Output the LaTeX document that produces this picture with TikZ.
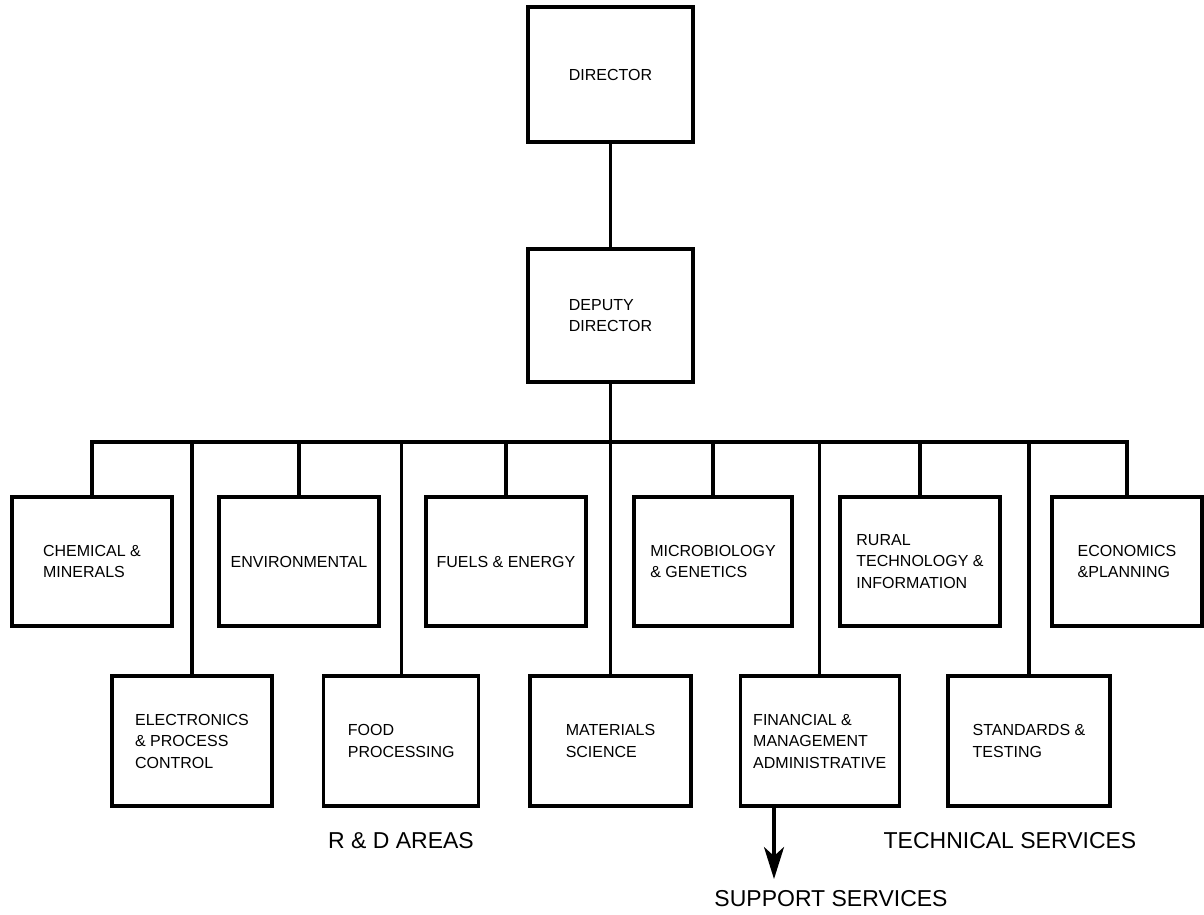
\documentclass[tikz,border=0pt]{standalone}
\usepackage{fontspec}
\setmainfont{Liberation Sans}
\usepackage{tikz}
\usetikzlibrary{
        arrows,
        arrows.meta,
        positioning
    }
\tikzset{unit/.style={draw,line width=3.2pt,minimum width=160pt,minimum height=129pt,
        align=left,inner sep=0pt,font=\fontsize{16}{21.5}\selectfont}}
\tikzset{caption/.style={font=\fontsize{23}{27}\selectfont,inner sep=0pt}}

\begin{document}
\begin{tikzpicture}[x=1pt,y=-1pt,line width=3.2pt,node distance=207pt]
                \useasboundingbox (0,0) rectangle (1204,914);
                \node[unit,minimum width=165pt,minimum height=135pt] (director) at (610.5,74.5) {DIRECTOR};
                \node[unit,minimum width=165pt,minimum height=133pt] (deputy) at (610.5,315.5) {DEPUTY\\DIRECTOR};
                \node[unit] (chem) at (92,561.5) {CHEMICAL \&\\MINERALS};
                \node[unit] (env) [right of=chem] {ENVIRONMENTAL};
                \node[unit] (fuels) [right of=env] {FUELS \& ENERGY};
                \node[unit,minimum width=158pt] (micro) [right of=fuels] {MICROBIOLOGY\\\& GENETICS};
                \node[unit] (rural) [right of=micro] {RURAL\\TECHNOLOGY \&\\INFORMATION};
                \node[unit,minimum width=150pt] (econ) [right of=rural] {ECONOMICS\\\&PLANNING};
                \tikzset{node distance=209.25pt}
                \node[unit,minimum height=130pt] (elec) at (192,741) {ELECTRONICS\\\& PROCESS\\CONTROL};
                \node[unit,minimum width=155pt,minimum height=130pt] (food) [right of=elec] {FOOD\\PROCESSING};
                \node[unit,minimum width=161pt,minimum height=130pt] (mater) [right of=food] {MATERIALS\\SCIENCE};
                \node[unit,minimum width=159pt,minimum height=130pt] (fin) [right of=mater] {FINANCIAL \&\\MANAGEMENT\\ADMINISTRATIVE};
                \node[unit,minimum width=162pt,minimum height=130pt] (stand) [right of=fin] {STANDARDS \&\\TESTING};
                \coordinate (bus) at (0,442);
                \coordinate (suptip) at (774,879);
                \node[caption] (rdareas) at (401,841) {R \& D AREAS};
                \node[caption] (techserv) at (1010,841) {TECHNICAL SERVICES};
                \node[caption] (suppserv) at (831,899) {SUPPORT SERVICES};
                \draw (director) -- (deputy);
                \draw (deputy) -- (mater);
                \draw (chem.north) -- (chem.north |- bus) -- (econ.north |- bus) -- (econ.north);
                \foreach \n in {env,fuels,micro,rural,elec,food,fin,stand}
                        \draw (\n.north) -- (\n.north |- bus);
                \draw[-{Stealth[length=32pt,width=20pt,inset=9pt]}] (fin.south -| suptip) -- (suptip);
            \end{tikzpicture}
\end{document}
